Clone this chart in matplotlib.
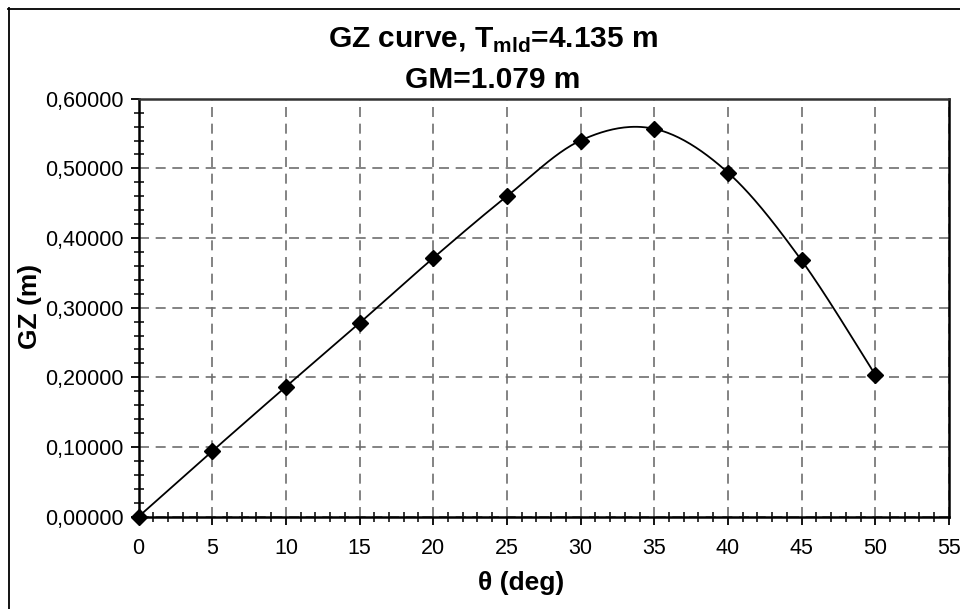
#!/usr/bin/env python3
"""
GZ stability curve for the loaded condition (Excel-style smoothed line)
"""

import numpy as np
import matplotlib
matplotlib.use("Agg")
import matplotlib.pyplot as plt
from matplotlib.ticker import MultipleLocator, FuncFormatter
from matplotlib.lines import Line2D

# heel angle (deg) and righting arm GZ (m)
heel_deg = [0, 5, 10, 15, 20, 25, 30, 35, 40, 45, 50]
gz_m = [0.0, 0.094, 0.1866, 0.278, 0.3713, 0.460, 0.540, 0.5568, 0.4940, 0.3678, 0.2036]

T_mld = 4.135
GM = 1.079

W, H = 960, 609


def smooth_bezier(x, y, n=40):
    """Smoothed line through the points, same scheme as spreadsheet charts
    (cubic Bezier with control points at 1/6 of the neighbour chord)."""
    p = np.column_stack([x, y]).astype(float)
    out = [p[0]]
    for i in range(len(p) - 1):
        p0 = p[i - 1] if i > 0 else p[i]
        p1, p2 = p[i], p[i + 1]
        p3 = p[i + 2] if i + 2 < len(p) else p[i + 1]
        c1 = p1 + (p2 - p0) / 6.0
        c2 = p2 - (p3 - p1) / 6.0
        t = np.linspace(0, 1, n)[1:, None]
        seg = ((1 - t) ** 3) * p1 + 3 * ((1 - t) ** 2) * t * c1 \
            + 3 * (1 - t) * t ** 2 * c2 + t ** 3 * p2
        out.extend(seg)
    out = np.array(out)
    return out[:, 0], out[:, 1]


def px(x, y):
    """pixel position (from top-left) -> figure fraction"""
    return x / W, 1 - y / H


def main():
    plt.rcParams['font.family'] = ['Liberation Sans', 'DejaVu Sans']
    plt.rcParams['mathtext.fontset'] = 'custom'
    plt.rcParams['mathtext.rm'] = 'Liberation Sans'
    plt.rcParams['mathtext.bf'] = 'Liberation Sans:bold'

    fig = plt.figure(figsize=(W / 100, H / 100), dpi=100)
    ax = fig.add_axes([0.1443, 0.1516, 0.8442, 0.6863])

    sx, sy = smooth_bezier(heel_deg, gz_m)
    ax.plot(sx, sy, color='black', lw=1.3, zorder=3, clip_on=False)
    ax.plot(heel_deg, gz_m, ls='none', marker='D', ms=8, color='black',
            zorder=4, clip_on=False)

    ax.set_xlim(0, 55)
    ax.set_ylim(0, 0.6)
    ax.xaxis.set_major_locator(MultipleLocator(5))
    ax.xaxis.set_minor_locator(MultipleLocator(1))
    ax.yaxis.set_major_locator(MultipleLocator(0.1))
    ax.yaxis.set_minor_locator(MultipleLocator(0.02))
    ax.yaxis.set_major_formatter(
        FuncFormatter(lambda v, _: f"{v:.5f}".replace('.', ',')))

    ax.grid(True, which='major', color='#6e6e6e', lw=1.2, ls=(0, (6, 4)))
    ax.set_axisbelow(True)

    ax.tick_params(which='major', direction='out', length=6, width=1.3,
                   labelsize=15.5)
    ax.tick_params(axis='x', which='major', pad=9)
    ax.tick_params(axis='y', which='major', pad=5)
    ax.tick_params(which='minor', direction='inout', length=7, width=1.1)

    for side in ['left', 'bottom', 'right']:
        ax.spines[side].set_linewidth(1.8)
        ax.spines[side].set_color('black')
    ax.spines['top'].set_linewidth(1.8)
    ax.spines['top'].set_color('#333333')

    # axis titles
    fig.text(*px(521, 590), 'θ (deg)', ha='center', va='baseline',
             fontsize=19, fontweight='bold')
    fig.text(*px(30, 306), 'GZ (m)', ha='center', va='center', rotation=90,
             fontsize=19, fontweight='bold')

    # chart title
    fig.text(*px(493, 48), r'GZ curve, T$_{\mathbf{mld}}$=' + f'{T_mld:.3f} m',
             ha='center', va='baseline', fontsize=21.5, fontweight='bold')
    fig.text(*px(493, 88), f'GM={GM:.3f} m',
             ha='center', va='baseline', fontsize=21.5, fontweight='bold')

    # chart area border
    fig.add_artist(Line2D([8.5 / W, 8.5 / W], [1 - 8 / H, 0],
                          transform=fig.transFigure, color='black', lw=1.3))
    fig.add_artist(Line2D([8 / W, 1], [1 - 8.5 / H, 1 - 8.5 / H],
                          transform=fig.transFigure, color='black', lw=1.3))

    fig.savefig('out.png', dpi=100)


if __name__ == "__main__":
    main()
